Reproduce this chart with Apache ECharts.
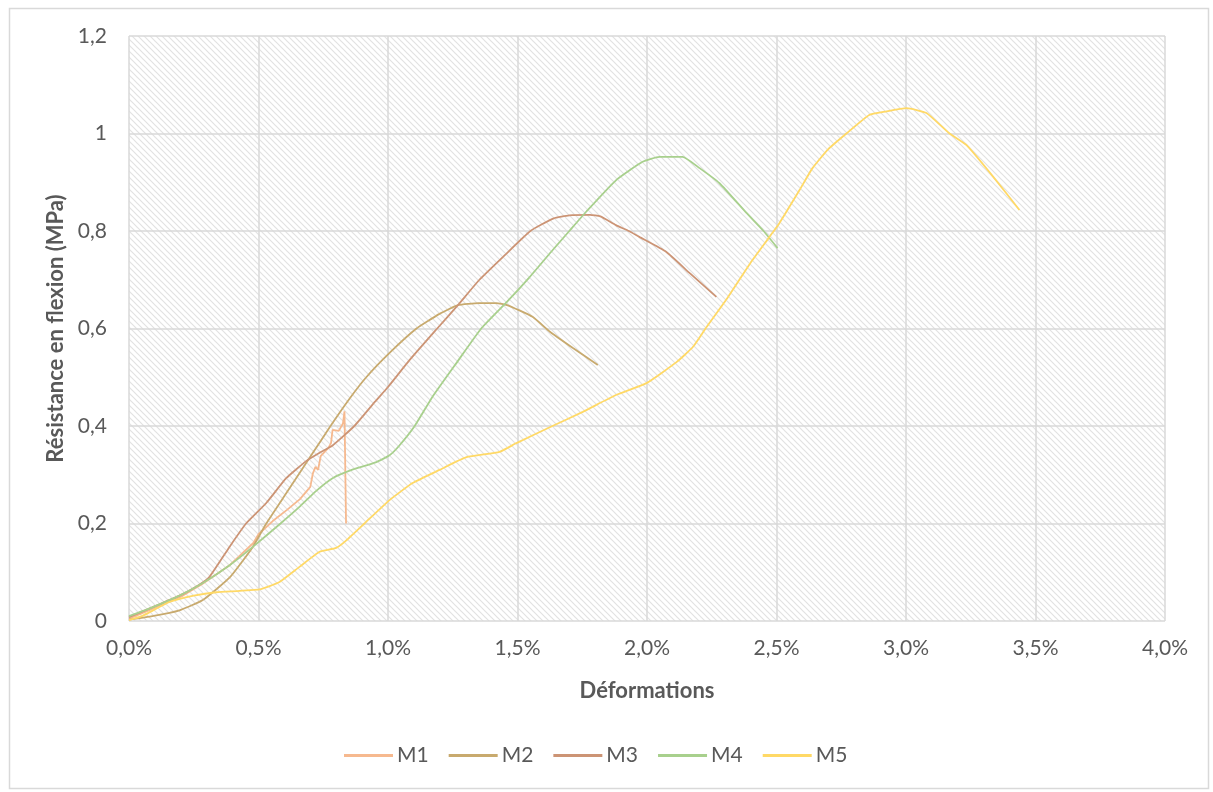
<!DOCTYPE html>
<html>
<head>
<meta charset="utf-8">
<script src="https://cdn.jsdelivr.net/npm/echarts@6/dist/echarts.min.js"></script>
<style>
html,body{margin:0;padding:0;background:#fff;}
#c{width:1213px;height:792px;}
</style>
</head>
<body>
<div id="c"></div>
<script>
// Déformations (%) , Résistance en flexion (MPa)
const seriesNames = ['M1', 'M2', 'M3', 'M4', 'M5'];
const xTicks = [0, 0.5, 1, 1.5, 2, 2.5, 3, 3.5, 4];
const yTicks = [0, 0.2, 0.4, 0.6, 0.8, 1, 1.2];

const M1 = [[0,0.005],[0.09,0.025],[0.2,0.05],[0.28,0.075],[0.39,0.115],[0.48,0.16],[0.5,0.178],[0.555,0.205],[0.61,0.228],[0.66,0.25],[0.7,0.275],[0.71,0.303],[0.72,0.316],[0.73,0.31],[0.74,0.338],[0.77,0.355],[0.78,0.365],[0.786,0.392],[0.81,0.39],[0.826,0.405],[0.832,0.43],[0.838,0.2]];
const M2 = [[0,0.003],[0.09,0.01],[0.195,0.022],[0.285,0.043],[0.39,0.09],[0.478,0.152],[0.53,0.2],[0.607,0.262],[0.658,0.303],[0.71,0.345],[0.778,0.4],[0.85,0.455],[0.916,0.5],[1.006,0.55],[1.11,0.6],[1.199,0.63],[1.27,0.648],[1.35,0.652],[1.418,0.652],[1.46,0.648],[1.558,0.624],[1.624,0.594],[1.714,0.56],[1.81,0.525]];
const M3 = [[0,0.008],[0.09,0.028],[0.195,0.052],[0.27,0.074],[0.31,0.09],[0.388,0.152],[0.452,0.2],[0.53,0.242],[0.607,0.293],[0.684,0.328],[0.736,0.345],[0.786,0.36],[0.87,0.4],[0.95,0.45],[1.0,0.48],[1.083,0.535],[1.19,0.6],[1.27,0.648],[1.353,0.7],[1.45,0.75],[1.55,0.8],[1.64,0.826],[1.7,0.832],[1.78,0.833],[1.82,0.83],[1.88,0.812],[1.93,0.8],[1.97,0.788],[2.075,0.757],[2.164,0.714],[2.268,0.665]];
const M4 = [[0,0.01],[0.09,0.028],[0.195,0.052],[0.285,0.078],[0.39,0.115],[0.478,0.152],[0.585,0.2],[0.658,0.234],[0.723,0.267],[0.786,0.293],[0.86,0.31],[0.955,0.326],[1.006,0.34],[1.044,0.36],[1.103,0.4],[1.172,0.46],[1.264,0.529],[1.36,0.6],[1.46,0.655],[1.546,0.705],[1.636,0.761],[1.7,0.8],[1.766,0.84],[1.882,0.905],[1.983,0.942],[2.048,0.952],[2.137,0.952],[2.203,0.929],[2.28,0.898],[2.384,0.837],[2.45,0.8],[2.504,0.765]];
const M5 = [[0,0.002],[0.05,0.01],[0.156,0.039],[0.25,0.052],[0.337,0.059],[0.504,0.065],[0.581,0.08],[0.658,0.111],[0.736,0.142],[0.8,0.15],[0.838,0.165],[0.909,0.2],[1.006,0.248],[1.095,0.283],[1.199,0.31],[1.303,0.336],[1.431,0.347],[1.496,0.365],[1.635,0.4],[1.752,0.429],[1.882,0.464],[1.998,0.488],[2.114,0.531],[2.177,0.562],[2.226,0.6],[2.307,0.66],[2.4,0.735],[2.473,0.788],[2.511,0.816],[2.589,0.884],[2.639,0.929],[2.7,0.968],[2.77,1.0],[2.858,1.038],[2.92,1.045],[3.002,1.052],[3.079,1.042],[3.168,1.0],[3.234,0.976],[3.337,0.911],[3.438,0.843]];

const seriesData = [M1, M2, M3, M4, M5];
const colors = ['#F6B98F', '#C8AA6E', '#CC9475', '#A8D08D', '#FFD966'];

// diagonal hatch pattern for plot background
function hatch() {
  const s = 6;
  const cv = document.createElement('canvas');
  cv.width = s; cv.height = s;
  const ctx = cv.getContext('2d');
  ctx.fillStyle = '#ffffff';
  ctx.fillRect(0, 0, s, s);
  ctx.strokeStyle = '#e2e2e2';
  ctx.lineWidth = 1.2;
  for (const off of [-s, 0, s]) {
    ctx.beginPath();
    ctx.moveTo(off - 1, -1);
    ctx.lineTo(off + s + 1, s + 1);
    ctx.stroke();
  }
  return cv;
}

const FONT = 'Lato';
const chart = echarts.init(document.getElementById('c'), null, {renderer: 'canvas'});
chart.setOption({
  animation: false,
  backgroundColor: '#ffffff',
  textStyle: {fontFamily: FONT},
  graphic: [{
    type: 'rect', left: 7, top: 6, silent: true, z: -10,
    shape: {width: 1199, height: 780},
    style: {fill: 'none', stroke: '#d9d9d9', lineWidth: 1.5}
  }],
  grid: {
    left: 129, right: 48, top: 36, bottom: 171,
    show: true, borderWidth: 0,
    backgroundColor: {image: hatch(), repeat: 'repeat'}
  },
  legend: {
    bottom: 21, left: 339,
    itemWidth: 49, itemHeight: 3, itemGap: 20,
    icon: 'rect',
    textStyle: {fontFamily: FONT, fontSize: 21, color: '#595959', padding: [0,0,0,-1]},
    data: seriesNames
  },
  xAxis: {
    type: 'value', min: 0, max: 4, interval: 0.5,
    name: 'Déformations', nameLocation: 'middle', nameGap: 59,
    nameTextStyle: {fontFamily: FONT, fontSize: 22, fontWeight: 'bold', color: '#595959'},
    axisLine: {show: false}, axisTick: {show: false},
    axisLabel: {fontSize: 21, color: '#595959', margin: 17,
      formatter: v => v.toFixed(1).replace('.', ',') + '%'},
    splitLine: {show: true, lineStyle: {color: '#d9d9d9', width: 1.5}}
  },
  yAxis: {
    type: 'value', min: 0, max: 1.2, interval: 0.2,
    name: 'Résistance en flexion (MPa)', nameLocation: 'middle', nameGap: 58,
    nameTextStyle: {fontFamily: FONT, fontSize: 22, fontWeight: 'bold', color: '#595959'},
    axisLine: {show: false}, axisTick: {show: false},
    axisLabel: {fontSize: 21, color: '#595959', margin: 22,
      formatter: v => String(+v.toFixed(1)).replace('.', ',')},
    splitLine: {show: true, lineStyle: {color: '#d9d9d9', width: 1.5}}
  },
  series: seriesNames.map((n, i) => ({
    name: n, type: 'line', data: seriesData[i],
    showSymbol: false, symbol: 'none',
    smooth: i === 0 ? false : 0.15,
    lineStyle: {color: colors[i], width: 1.8},
    itemStyle: {color: colors[i]},
    z: 2 + i
  }))
});
</script>
</body>
</html>
